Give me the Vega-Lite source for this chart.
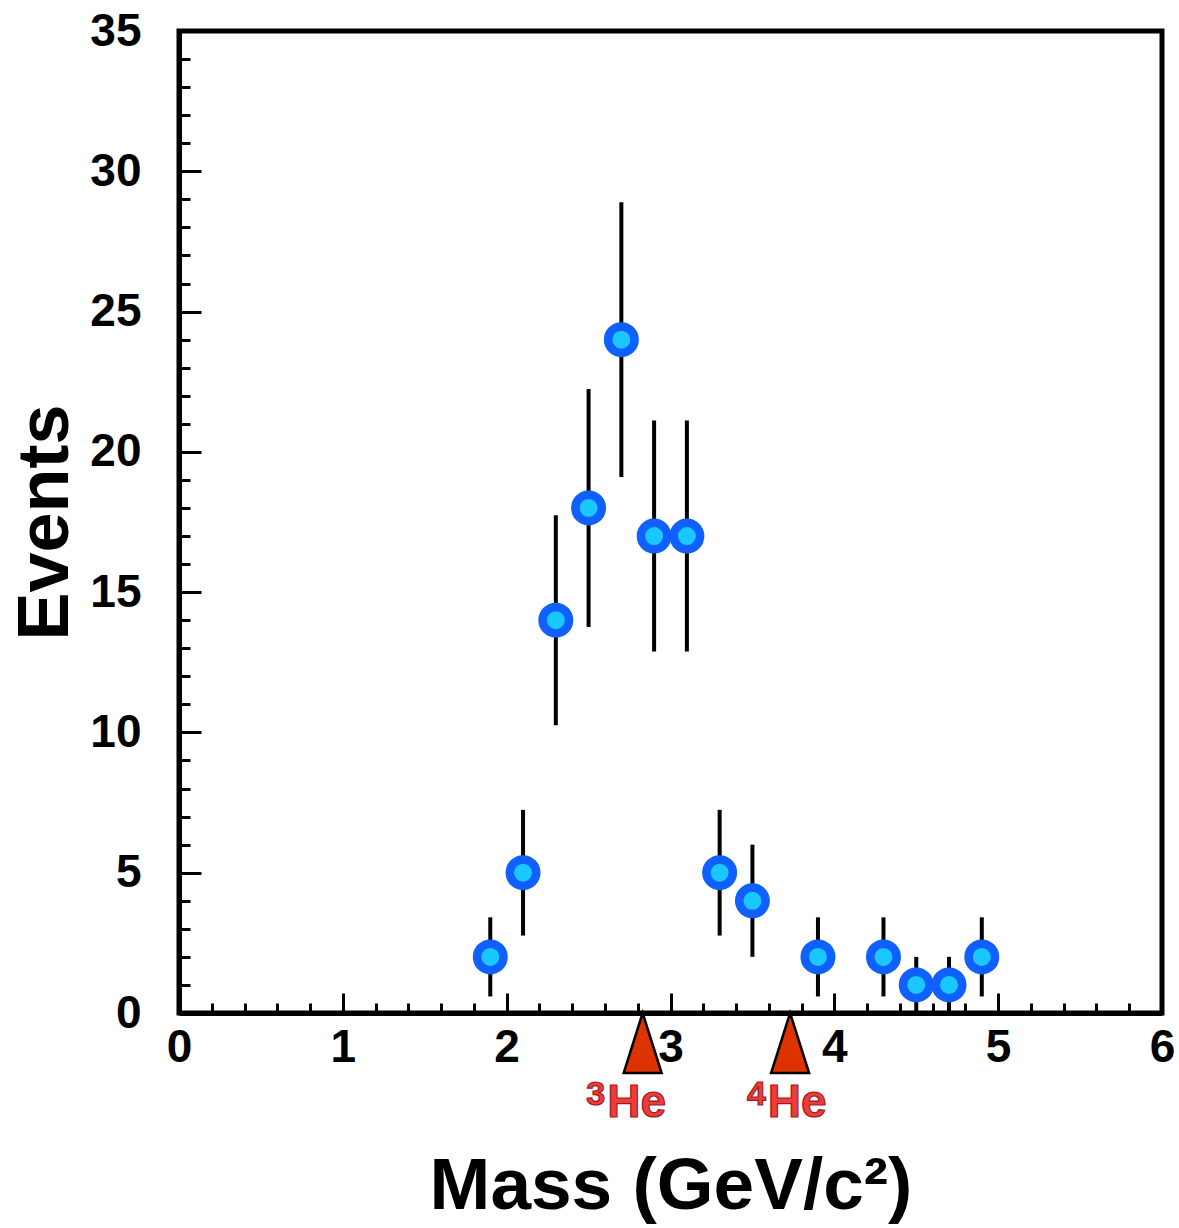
{
  "$schema": "https://vega.github.io/schema/vega-lite/v6.json",
  "width": 983,
  "height": 982,
  "autosize": {"type": "none"},
  "padding": {"left": 179, "top": 31, "right": 17, "bottom": 215},
  "background": "white",
  "config": {"view": {"stroke": "black", "strokeWidth": 5}, "font": "Liberation Sans"},
  "datasets": {
    "counts": [
      {"mass": 1.9, "events": 2, "lo": 0.59, "hi": 3.41},
      {"mass": 2.1, "events": 5, "lo": 2.76, "hi": 7.24},
      {"mass": 2.3, "events": 14, "lo": 10.26, "hi": 17.74},
      {"mass": 2.5, "events": 18, "lo": 13.76, "hi": 22.24},
      {"mass": 2.7, "events": 24, "lo": 19.1, "hi": 28.9},
      {"mass": 2.9, "events": 17, "lo": 12.88, "hi": 21.12},
      {"mass": 3.1, "events": 17, "lo": 12.88, "hi": 21.12},
      {"mass": 3.3, "events": 5, "lo": 2.76, "hi": 7.24},
      {"mass": 3.5, "events": 4, "lo": 2.0, "hi": 6.0},
      {"mass": 3.9, "events": 2, "lo": 0.59, "hi": 3.41},
      {"mass": 4.3, "events": 2, "lo": 0.59, "hi": 3.41},
      {"mass": 4.5, "events": 1, "lo": 0.0, "hi": 2.0},
      {"mass": 4.7, "events": 1, "lo": 0.0, "hi": 2.0},
      {"mass": 4.9, "events": 2, "lo": 0.59, "hi": 3.41}
    ],
    "markers": [
      {"isotope": "3He", "mass": 2.83},
      {"isotope": "4He", "mass": 3.73}
    ],
    "labels": [
      {"mass": 2.73, "sup": "3", "name": "He"},
      {"mass": 3.71, "sup": "4", "name": "He"}
    ]
  },
  "layer": [
    {
      "data": {"name": "counts"},
      "mark": {"type": "rule", "color": "black", "strokeWidth": 4},
      "encoding": {
        "x": {
          "field": "mass", "type": "quantitative",
          "scale": {"domain": [0, 6], "nice": false, "zero": false},
          "axis": {
            "orient": "bottom", "values": [0, 1, 2, 3, 4, 5, 6],
            "tickSize": -20, "tickWidth": 3, "tickColor": "black",
            "domainColor": "black", "domainWidth": 5, "grid": false,
            "labelFontSize": 46, "labelFontWeight": "bold", "labelColor": "black",
            "labelFont": "Liberation Sans", "labelPadding": 32, "labelFlush": false,
            "labelOverlap": false, "labelBaseline": "top",
            "title": "Mass (GeV/c²)", "titleFontSize": 73, "titleFontWeight": "bold",
            "titleFont": "Liberation Sans", "titleColor": "black",
            "titleX": 491.5, "titleY": 195, "titleBaseline": "alphabetic", "titleAlign": "center"
          }
        },
        "y": {
          "field": "lo", "type": "quantitative",
          "scale": {"domain": [0, 35], "nice": false, "zero": false},
          "axis": {
            "orient": "left", "values": [0, 5, 10, 15, 20, 25, 30, 35],
            "tickSize": -22, "tickWidth": 3, "tickColor": "black",
            "domainColor": "black", "domainWidth": 5, "grid": false,
            "labelFontSize": 46, "labelFontWeight": "bold", "labelColor": "black",
            "labelFont": "Liberation Sans", "labelPadding": 60, "labelFlush": false,
            "labelOverlap": false,
            "title": "Events", "titleFontSize": 72, "titleFontWeight": "bold",
            "titleFont": "Liberation Sans", "titleColor": "black",
            "titleX": -112, "titleY": 491, "titleAngle": -90,
            "titleBaseline": "alphabetic", "titleAlign": "center"
          }
        },
        "y2": {"field": "hi"}
      }
    },
    {
      "data": {"name": "counts"},
      "mark": {"type": "point", "shape": "circle", "filled": true, "fill": "#1ac8ff", "stroke": "#1060ff", "strokeWidth": 8.5, "size": 702, "opacity": 1},
      "encoding": {
        "x": {
          "field": "mass", "type": "quantitative",
          "scale": {"domain": [0, 6], "nice": false, "zero": false},
          "axis": {
            "orient": "bottom",
            "values": [0.2, 0.4, 0.6, 0.8, 1.2, 1.4, 1.6, 1.8, 2.2, 2.4, 2.6, 2.8, 3.2, 3.4, 3.6, 3.8, 4.2, 4.4, 4.6, 4.8, 5.2, 5.4, 5.6, 5.8],
            "tickSize": -10, "tickWidth": 3, "tickColor": "black",
            "domain": false, "labels": false, "grid": false, "title": null
          }
        },
        "y": {
          "field": "events", "type": "quantitative",
          "scale": {"domain": [0, 35], "nice": false, "zero": false},
          "axis": {
            "orient": "left",
            "values": [1, 2, 3, 4, 6, 7, 8, 9, 11, 12, 13, 14, 16, 17, 18, 19, 21, 22, 23, 24, 26, 27, 28, 29, 31, 32, 33, 34],
            "tickSize": -11, "tickWidth": 3, "tickColor": "black",
            "domain": false, "labels": false, "grid": false, "title": null
          }
        }
      }
    },
    {
      "data": {"name": "markers"},
      "mark": {"type": "point", "shape": "M0,0L0.633,2L-0.633,2Z", "size": 3600, "filled": true, "fill": "#dd3300", "stroke": "black", "strokeWidth": 2.5, "opacity": 1},
      "encoding": {
        "x": {"field": "mass", "type": "quantitative", "axis": null},
        "y": {"datum": 0, "type": "quantitative", "axis": null}
      }
    },
    {
      "data": {"name": "labels"},
      "mark": {"type": "text", "align": "left", "baseline": "alphabetic", "dx": -19, "dy": 104, "fontSize": 46, "fontWeight": "bold", "font": "Liberation Sans", "fill": "#ee3b3b", "stroke": "#9b1c1c", "strokeWidth": 1.2},
      "encoding": {
        "x": {"field": "mass", "type": "quantitative", "axis": null},
        "y": {"datum": 0, "type": "quantitative", "axis": null},
        "text": {"field": "name"}
      }
    },
    {
      "data": {"name": "labels"},
      "mark": {"type": "text", "align": "right", "baseline": "alphabetic", "dx": -21, "dy": 92, "fontSize": 34, "fontWeight": "bold", "font": "Liberation Sans", "fill": "#ee3b3b", "stroke": "#9b1c1c", "strokeWidth": 1.2},
      "encoding": {
        "x": {"field": "mass", "type": "quantitative", "axis": null},
        "y": {"datum": 0, "type": "quantitative", "axis": null},
        "text": {"field": "sup"}
      }
    }
  ],
  "resolve": {"axis": {"x": "independent", "y": "independent"}}
}
